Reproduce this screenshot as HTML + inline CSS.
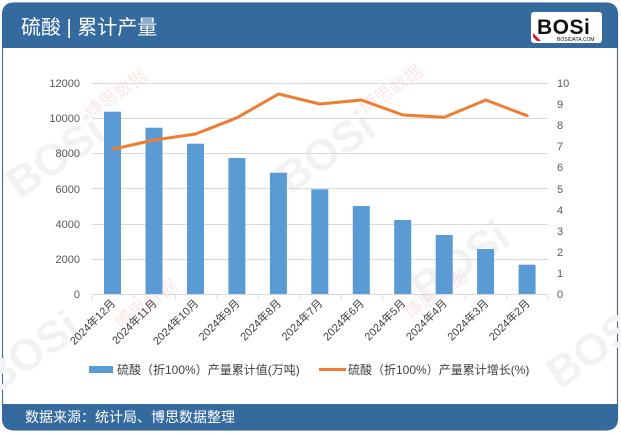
<!DOCTYPE html>
<html><head><meta charset="utf-8"><style>
html,body{margin:0;padding:0;background:#fff;}
svg{display:block;font-family:"Liberation Sans","Noto Sans CJK SC",sans-serif;}
</style></head><body>
<svg width="621" height="433" viewBox="0 0 621 433" xmlns="http://www.w3.org/2000/svg">
<!-- frame -->
<path d="M2.5,15 Q2.5,3 14.5,3 L605.5,3 Q617.5,3 617.5,15 L617.5,418 Q617.5,430 605.5,430 L14.5,430 Q2.5,430 2.5,418 Z" fill="#fff" stroke="#4f6f93" stroke-width="1.2"/>
<path d="M2,15 Q2,3 14,3 L606,3 Q618,3 618,15 L618,48 L2,48 Z" fill="#356a9e"/>
<path d="M2,404 L618,404 L618,418 Q618,430 606,430 L14,430 Q2,430 2,418 Z" fill="#356a9e"/>
<text x="21" y="34" font-size="20" fill="#fff">硫酸 | 累计产量</text>
<text x="25" y="422" font-size="14" fill="#fff">数据来源：统计局、博思数据整理</text>
<!-- logo -->
<rect x="531" y="12" width="71" height="31" rx="3" fill="#fff"/>
<text x="537" y="34" font-size="21" font-weight="bold" fill="#111" letter-spacing="0.5">BOSi</text>
<polygon points="533,33 541,41 537,41 533,37" fill="#c8202c"/>
<text x="557" y="41" font-size="5" fill="#111">BOSIDATA.COM</text>
<!-- watermarks -->
<g fill="#f2f2f2" font-weight="bold" font-size="44">
<text transform="translate(20,200) rotate(-35)">BOSi</text>
<text transform="translate(290,195) rotate(-35)">BOSi</text>
<text transform="translate(425,305) rotate(-35)">BOSi</text>
<text transform="translate(560,390) rotate(-35)">BOSi</text>
<text transform="translate(-5,395) rotate(-35)">BOSi</text>
</g>
<g fill="#f9e8e8" font-size="18">
<text transform="translate(90,120) rotate(-35)">博思数据</text>
<text transform="translate(365,115) rotate(-35)">博思数据</text>
<text transform="translate(120,330) rotate(-35)">博思数据</text>
<text transform="translate(410,320) rotate(-35)">博思数据</text>
</g>
<!-- gridlines -->
<g stroke="#d9d9d9" stroke-width="1">
<line x1="92" y1="83.5" x2="548" y2="83.5"/>
<line x1="92" y1="118.5" x2="548" y2="118.5"/>
<line x1="92" y1="153.5" x2="548" y2="153.5"/>
<line x1="92" y1="188.5" x2="548" y2="188.5"/>
<line x1="92" y1="224.5" x2="548" y2="224.5"/>
<line x1="92" y1="259.5" x2="548" y2="259.5"/>
<line x1="92" y1="294.5" x2="548" y2="294.5"/>
</g>
<g stroke="#d9d9d9" stroke-width="1">
<line x1="92.5" y1="294" x2="92.5" y2="299"/>
<line x1="133.9" y1="294" x2="133.9" y2="299"/>
<line x1="175.4" y1="294" x2="175.4" y2="299"/>
<line x1="216.8" y1="294" x2="216.8" y2="299"/>
<line x1="258.3" y1="294" x2="258.3" y2="299"/>
<line x1="299.7" y1="294" x2="299.7" y2="299"/>
<line x1="341.2" y1="294" x2="341.2" y2="299"/>
<line x1="382.6" y1="294" x2="382.6" y2="299"/>
<line x1="424.1" y1="294" x2="424.1" y2="299"/>
<line x1="465.5" y1="294" x2="465.5" y2="299"/>
<line x1="507" y1="294" x2="507" y2="299"/>
<line x1="547.5" y1="294" x2="547.5" y2="299"/>
</g>
<!-- left axis labels -->
<g font-size="11" fill="#595959" text-anchor="end">
<text x="80" y="87">12000</text>
<text x="80" y="122">10000</text>
<text x="80" y="157">8000</text>
<text x="80" y="193">6000</text>
<text x="80" y="228">4000</text>
<text x="80" y="263">2000</text>
<text x="80" y="298">0</text>
</g>
<g font-size="11" fill="#595959">
<text x="557" y="87">10</text>
<text x="557" y="108">9</text>
<text x="557" y="129">8</text>
<text x="557" y="150">7</text>
<text x="557" y="171">6</text>
<text x="557" y="193">5</text>
<text x="557" y="214">4</text>
<text x="557" y="235">3</text>
<text x="557" y="256">2</text>
<text x="557" y="277">1</text>
<text x="557" y="298">0</text>
</g>
<!-- bars -->
<g fill="#5b9bd5">
<rect x="104" y="111.7" width="17" height="182.3"/>
<rect x="145.5" y="127.7" width="17" height="166.3"/>
<rect x="187" y="143.7" width="17" height="150.3"/>
<rect x="228.4" y="158" width="17" height="136"/>
<rect x="269.9" y="172.7" width="17" height="121.3"/>
<rect x="311.3" y="189.3" width="17" height="104.7"/>
<rect x="352.8" y="206" width="17" height="88"/>
<rect x="394.2" y="220" width="17" height="74"/>
<rect x="435.7" y="235" width="17" height="59"/>
<rect x="477.1" y="249" width="17" height="45"/>
<rect x="518.6" y="264.7" width="17" height="29.3"/>
</g>
<!-- line -->
<polyline fill="none" stroke="#ed7d31" stroke-width="3" stroke-linejoin="round" stroke-linecap="round"
points="112.7,149.3 154.2,140 195.6,134 237.1,117.7 278.5,94 320,104 361.4,100 402.9,115 444.3,117.3 485.8,100 527.2,115.7"/>
<!-- x labels -->
<g font-size="11" fill="#404040" text-anchor="end">
<text transform="translate(116,304) rotate(-45)">2024年12月</text>
<text transform="translate(157.5,304) rotate(-45)">2024年11月</text>
<text transform="translate(199,304) rotate(-45)">2024年10月</text>
<text transform="translate(240.4,304) rotate(-45)">2024年9月</text>
<text transform="translate(281.9,304) rotate(-45)">2024年8月</text>
<text transform="translate(323.3,304) rotate(-45)">2024年7月</text>
<text transform="translate(364.8,304) rotate(-45)">2024年6月</text>
<text transform="translate(406.2,304) rotate(-45)">2024年5月</text>
<text transform="translate(447.7,304) rotate(-45)">2024年4月</text>
<text transform="translate(489.1,304) rotate(-45)">2024年3月</text>
<text transform="translate(530.6,304) rotate(-45)">2024年2月</text>
</g>
<!-- legend -->
<rect x="89" y="366" width="24" height="7" fill="#5b9bd5"/>
<text x="117" y="374" font-size="12" fill="#404040">硫酸（折100%）产量累计值(万吨)</text>
<line x1="319" y1="369.5" x2="346" y2="369.5" stroke="#ed7d31" stroke-width="3"/>
<text x="348" y="374" font-size="12" fill="#404040">硫酸（折100%）产量累计增长(%)</text>
</svg>
</body></html>
